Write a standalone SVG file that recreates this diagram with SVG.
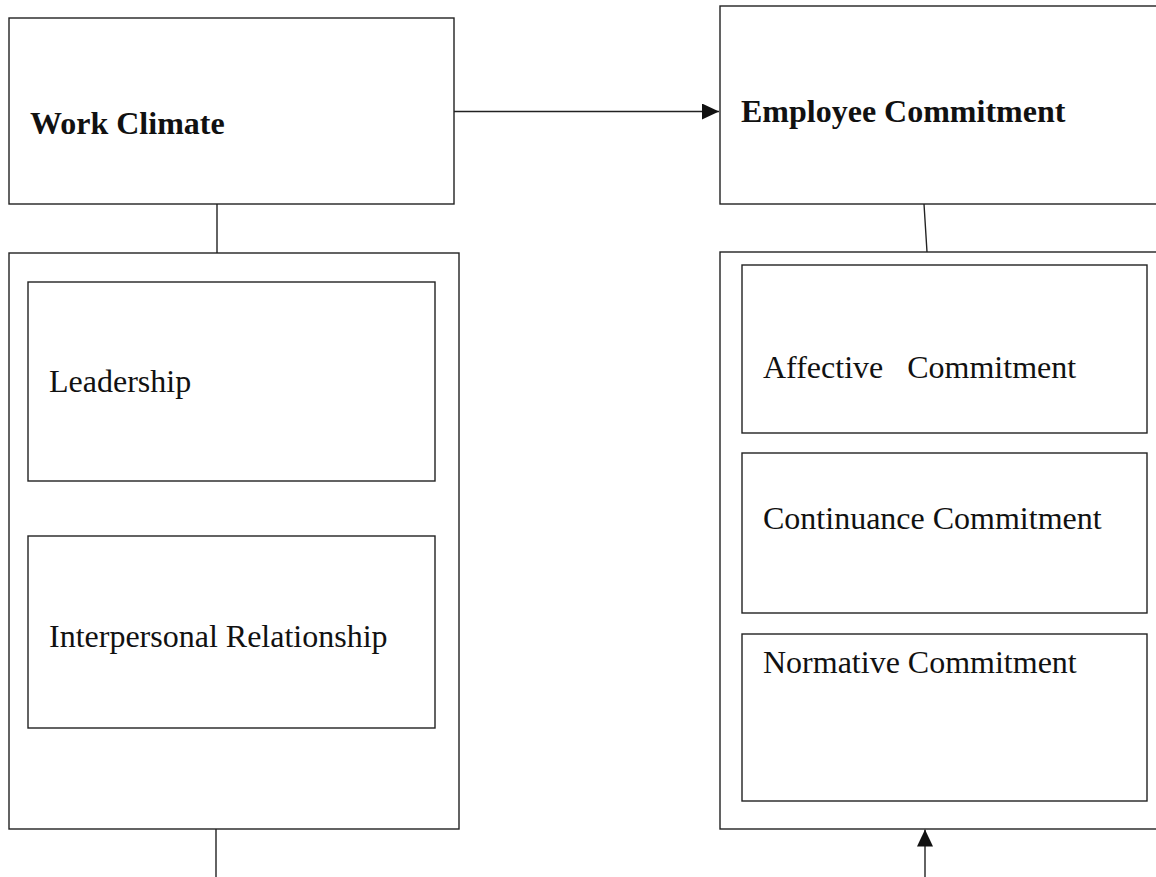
<svg xmlns="http://www.w3.org/2000/svg" width="1156" height="877" viewBox="0 0 1156 877">
<style>
.box{fill:#fff;stroke:#222;stroke-width:1.4}
.ln{fill:none;stroke:#222;stroke-width:1.4}
.t{font-family:"Liberation Serif","Times New Roman",serif;font-size:32px;fill:#111}
.b{font-weight:bold}
</style>
<defs>
<marker id="ah" markerWidth="17" markerHeight="16" refX="17" refY="8" orient="auto" markerUnits="userSpaceOnUse">
<path d="M0,0 L17,8 L0,16 Z" fill="#111"/>
</marker>
</defs>
<rect width="1156" height="877" fill="#fff"/>
<g id="work-climate">
<rect class="box" x="9" y="18" width="445" height="186"/>
<text class="t b" x="30" y="134">Work Climate</text>
</g>
<g id="employee-commitment">
<rect class="box" x="720" y="6" width="460" height="198"/>
<text class="t b" x="741" y="122">Employee Commitment</text>
</g>
<g id="work-climate-dimensions">
<rect class="box" x="9" y="253" width="450" height="576"/>
</g>
<g id="leadership">
<rect class="box" x="28" y="282" width="407" height="199"/>
<text class="t" x="49" y="392">Leadership</text>
</g>
<g id="interpersonal">
<rect class="box" x="28" y="536" width="407" height="192"/>
<text class="t" x="49" y="647">Interpersonal Relationship</text>
</g>
<g id="commitment-dimensions">
<rect class="box" x="720" y="252" width="460" height="577"/>
</g>
<g id="affective">
<rect class="box" x="742" y="265" width="405" height="168"/>
<text class="t" x="763" y="378" xml:space="preserve">Affective   Commitment</text>
</g>
<g id="continuance">
<rect class="box" x="742" y="453" width="405" height="160"/>
<text class="t" x="763" y="529">Continuance Commitment</text>
</g>
<g id="normative">
<rect class="box" x="742" y="634" width="405" height="167"/>
<text class="t" x="763" y="673">Normative Commitment</text>
</g>
<g id="connectors">
<line class="ln" x1="454" y1="111.5" x2="719" y2="111.5" marker-end="url(#ah)"/>
<line class="ln" x1="217" y1="204" x2="217" y2="253"/>
<line class="ln" x1="924" y1="204" x2="927" y2="252"/>
<line class="ln" x1="216" y1="829" x2="216" y2="877"/>
<line class="ln" x1="925" y1="877" x2="925" y2="829.5" marker-end="url(#ah)"/>
</g>
</svg>
